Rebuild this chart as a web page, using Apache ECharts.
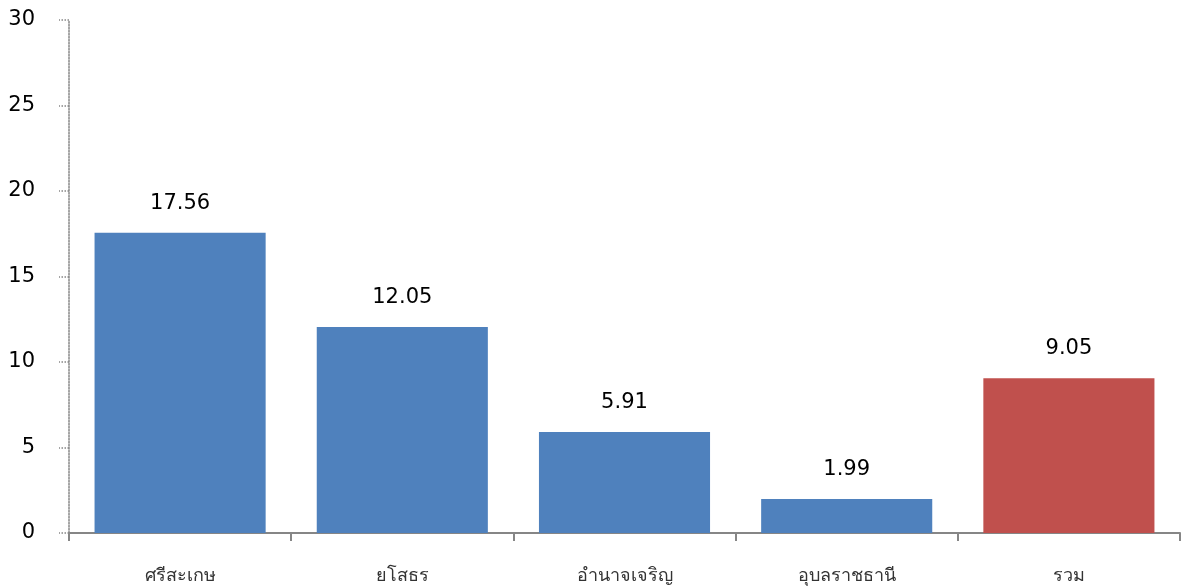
<!DOCTYPE html>
<html><head><meta charset="utf-8">
<script src="https://cdn.jsdelivr.net/npm/echarts@6/dist/echarts.min.js"></script>
<style>html,body{margin:0;padding:0;background:#fff}#c{width:1187px;height:587px}</style>
</head><body><div id="c"></div>
<script>
const categories = ['ศรีสะเกษ','ยโสธร','อำนาจเจริญ','อุบลราชธานี','รวม'];
const values = [17.56, 12.05, 5.91, 1.99, 9.05];
const barColors = ['#4F81BD','#4F81BD','#4F81BD','#4F81BD','#C0504D'];
const chart = echarts.init(document.getElementById('c'));
chart.setOption({
  animation:false,
  grid:{left:69,right:7,top:20,bottom:54,containLabel:false},
  xAxis:{type:'category',data:categories,
    axisLine:{lineStyle:{color:'#868686',width:2}},
    axisTick:{show:true,alignWithLabel:false,length:8,lineStyle:{color:'#868686',width:2}},
    axisLabel:{color:'#333',fontSize:18,margin:34,fontFamily:'Tahoma, "Noto Sans", sans-serif'}},
  yAxis:{type:'value',min:0,max:30,interval:5,
    axisLine:{show:true,lineStyle:{color:'#868686',type:'dotted',width:1.5}},
    axisTick:{show:true,length:10,lineStyle:{color:'#868686',type:'dotted',width:1.5}},
    splitLine:{show:false},
    axisLabel:{color:'#000',fontSize:21,margin:34,padding:[6,0,0,0],fontFamily:'Tahoma, "DejaVu Sans", sans-serif'}},
  series:[{type:'bar',barCategoryGap:'23%',
    data:values.map((v,i)=>({value:v,itemStyle:{color:barColors[i]}})),
    label:{show:true,position:'top',distance:19,color:'#000',fontSize:21,fontFamily:'Tahoma, "DejaVu Sans", sans-serif'}}]
});
</script></body></html>
